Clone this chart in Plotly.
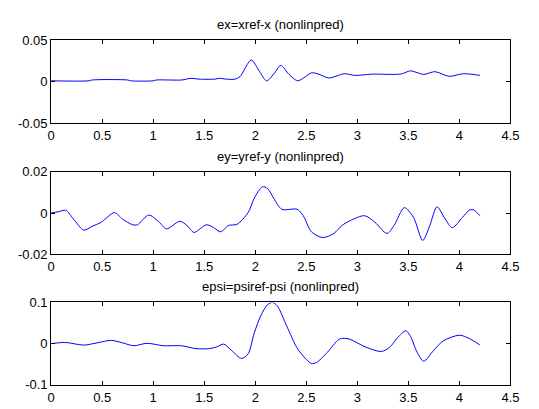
import plotly.graph_objects as go

# ---- data ----
t_ex = [0, 0.37, 0.40, 0.75, 0.78, 1.0, 1.03, 1.28, 1.37, 1.45, 1.6, 1.65, 1.72, 1.80, 1.85,
        1.96, 2.04, 2.11, 2.18, 2.25, 2.33, 2.415, 2.48, 2.55, 2.61, 2.72, 2.80, 2.87, 2.98,
        3.14, 3.43, 3.52, 3.65, 3.76, 3.90, 4.03, 4.11, 4.2]
ex = [0.001, 0.001, 0.002, 0.002, 0.001, 0.001, 0.002, 0.002, 0.004, 0.003, 0.003, 0.004,
      0.003, 0.003, 0.006, 0.026, 0.0125, 0.001, 0.009, 0.0195, 0.0087, 0.001, 0.005, 0.0106,
      0.0095, 0.0044, 0.007, 0.0095, 0.0075, 0.009, 0.0092, 0.013, 0.0087, 0.012, 0.0064,
      0.0095, 0.009, 0.0075]

t_ey = [0, 0.07, 0.143, 0.22, 0.32, 0.40, 0.49, 0.62, 0.70, 0.80, 0.845, 0.956, 1.05, 1.13,
        1.26, 1.33, 1.40, 1.52, 1.59, 1.66, 1.74, 1.82, 1.93, 1.99, 2.07, 2.12, 2.18, 2.26,
        2.41, 2.47, 2.55, 2.66, 2.77, 2.85, 2.93, 3.07, 3.17, 3.29, 3.36, 3.46, 3.55, 3.64,
        3.71, 3.78, 3.86, 3.93, 4.03, 4.1, 4.14, 4.2]
ey = [0, 0.0006, 0.0013, -0.003, -0.0083, -0.0065, -0.0045, 0.0002, -0.003, -0.0057, -0.0057,
      -0.001, -0.004, -0.0077, -0.004, -0.006, -0.0094, -0.0057, -0.007, -0.0091, -0.006,
      -0.0055, 0.0002, 0.0072, 0.0127, 0.0119, 0.0072, 0.0018, 0.0018, -0.0013, -0.0091,
      -0.0119, -0.0099, -0.006, -0.0037, -0.0013, -0.0044, -0.0099, -0.006, 0.0026, -0.0021,
      -0.0133, -0.006, 0.003, -0.0029, -0.0071, -0.0021, 0.0015, 0.0015, -0.0013]

t_epsi = [0, 0.14, 0.32, 0.45, 0.59, 0.70, 0.81, 0.94, 1.10, 1.275, 1.42, 1.55, 1.62, 1.69,
          1.77, 1.865, 1.93, 1.99, 2.056, 2.12, 2.167, 2.215, 2.31, 2.406, 2.486, 2.55, 2.6,
          2.693, 2.82, 2.87, 2.93, 3.075, 3.235, 3.315, 3.394, 3.474, 3.52, 3.585, 3.65,
          3.745, 3.84, 4.0, 4.095, 4.2]
epsi = [0, 0.003, -0.0035, 0.002, 0.008, 0.002, -0.005, 0.001, -0.005, -0.005, -0.012, -0.012,
        -0.008, -0.001, -0.017, -0.036, -0.0245, 0.026, 0.069, 0.0946, 0.1, 0.092, 0.0416,
        -0.009, -0.0346, -0.048, -0.0456, -0.0245, 0.0105, 0.013, 0.0105, -0.0075, -0.019,
        -0.009, 0.0145, 0.0315, 0.018, -0.0206, -0.0425, -0.017, 0.0066, 0.0206, 0.0128, -0.003]

titles = ["ex=xref-x (nonlinpred)", "ey=yref-y (nonlinpred)", "epsi=psiref-psi (nonlinpred)"]
x_ticks = [0, 0.5, 1, 1.5, 2, 2.5, 3, 3.5, 4, 4.5]
x_ticktext = ["0", "0.5", "1", "1.5", "2", "2.5", "3", "3.5", "4", "4.5"]
y_ticks = [[-0.05, 0, 0.05], [-0.02, 0, 0.02], [-0.1, 0, 0.1]]
y_ticktext = [["-0.05", "0", "0.05"], ["-0.02", "0", "0.02"], ["-0.1", "0", "0.1"]]

series = [(t_ex, ex), (t_ey, ey), (t_epsi, epsi)]

# ---- layout in pixels ----
W, H = 539, 409
x0, x1 = 48.3, 519.0
ybands = [(34.3, 120.7), (171.0, 256.7), (306.7, 392.3)]
title_y = [18, 155, 290]

fig = go.Figure()
font = dict(family="Liberation Sans, Arial, sans-serif", size=13, color="black")

for i, ((tx, ty), (top, bot)) in enumerate(zip(series, ybands)):
    n = "" if i == 0 else str(i + 1)
    fig.add_trace(go.Scatter(x=tx, y=ty, mode="lines",
                             line=dict(color="#0000ff", width=1, shape="spline", smoothing=0.8),
                             xaxis="x" + n, yaxis="y" + n, showlegend=False, cliponaxis=False))
    common = dict(showline=True, linecolor="black", linewidth=1, mirror="ticks",
                  ticks="inside", ticklen=4, tickcolor="black", showgrid=False,
                  zeroline=False, tickfont=font)
    fig.layout["xaxis" + n] = dict(domain=[x0 / W, x1 / W], range=[0, 4.5],
                                   tickvals=x_ticks, ticktext=x_ticktext,
                                   anchor="y" + n, **common)
    fig.layout["yaxis" + n] = dict(domain=[(H - bot) / H, (H - top) / H],
                                   range=[y_ticks[i][0], y_ticks[i][-1]],
                                   tickvals=y_ticks[i], ticktext=y_ticktext[i],
                                   anchor="x" + n, **common)
    fig.add_annotation(text=titles[i], x=(x0 + x1) / 2 / W, y=(H - title_y[i]) / H,
                       xref="paper", yref="paper", showarrow=False, font=font,
                       xanchor="center", yanchor="middle")

fig.update_layout(width=W, height=H, margin=dict(l=0, r=0, t=0, b=0),
                  paper_bgcolor="white", plot_bgcolor="white")

fig.write_html("out.html")
